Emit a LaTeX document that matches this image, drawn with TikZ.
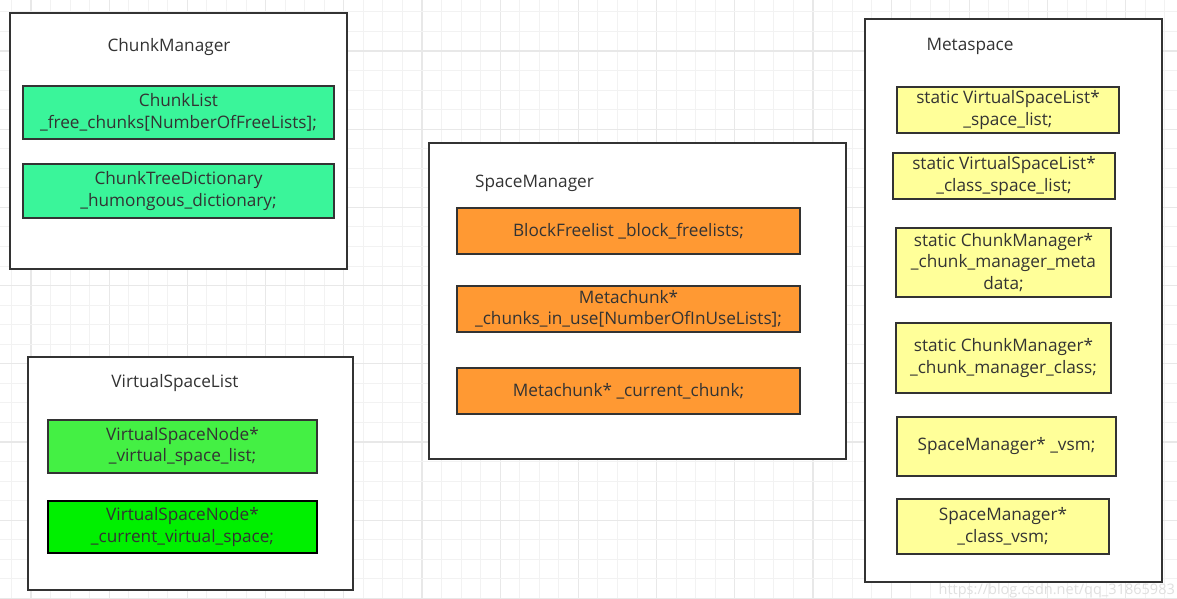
\documentclass[tikz,border=0pt]{standalone}
\usepackage{fontspec}
\setmainfont{Open Sans}
\definecolor{gridminor}{HTML}{F2F2F2}
\definecolor{gridmajor}{HTML}{E8E8E8}
\definecolor{edge}{HTML}{333333}
\definecolor{txt}{HTML}{333333}
\definecolor{teal}{HTML}{3AF59A}
\definecolor{lgreen}{HTML}{44F044}
\definecolor{bgreen}{HTML}{00F000}
\definecolor{orng}{HTML}{FF9933}
\definecolor{ylw}{HTML}{FFFF99}
\begin{document}
\begin{tikzpicture}[x=1pt,y=-1pt,
  container/.style={draw=edge,line width=2pt,fill=white,inner sep=0pt},
  field/.style={draw=edge,line width=2pt,inner sep=0pt,align=center,text=txt,
    font=\fontsize{17.2}{21.5}\selectfont},
  title/.style={text=txt,inner sep=0pt,font=\fontsize{17.2}{21.5}\selectfont}]
\useasboundingbox (0,0) rectangle (1177,598);
\fill[white] (0,0) rectangle (1177,598);
% grid
\foreach \k in {-22,...,40}{
  \pgfmathsetmacro{\gx}{422+19.55*\k}
  \pgfmathtruncatemacro{\m}{mod(\k+100,4)}
  \ifnum\m=0 \draw[gridmajor,line width=1.2pt] (\gx,0) -- (\gx,598);
  \else \draw[gridminor,line width=1pt] (\gx,0) -- (\gx,598); \fi
}
\foreach \k in {-3,...,28}{
  \pgfmathsetmacro{\gy}{51+19.55*\k}
  \pgfmathtruncatemacro{\m}{mod(\k+100,4)}
  \ifnum\m=0 \draw[gridmajor,line width=1.2pt] (0,\gy) -- (1177,\gy);
  \else \draw[gridminor,line width=1pt] (0,\gy) -- (1177,\gy); \fi
}
% ChunkManager
\node[container,minimum width=337pt,minimum height=256pt] (cm) at (178.5,141) {};
\node[title] (cmt) at (169,47) {ChunkManager};
\node[field,fill=teal,minimum width=311pt,minimum height=53pt] (cm1) at (178.5,112.5)
  {ChunkList\\\_free\_chunks[NumberOfFreeLists];};
\node[field,fill=teal,minimum width=311pt,minimum height=54pt] (cm2) at (178.5,191)
  {ChunkTreeDictionary\\\_humongous\_dictionary;};
% VirtualSpaceList
\node[container,minimum width=325pt,minimum height=233pt] (vsl) at (190.5,473.5) {};
\node[title] (vslt) at (175,383) {VirtualSpaceList};
\node[field,fill=lgreen,minimum width=269pt,minimum height=53pt] (v1) at (182.5,446.5)
  {VirtualSpaceNode*\\\_virtual\_space\_list;};
\node[field,fill=bgreen,draw=black,line width=2.5pt,minimum width=269pt,minimum height=52pt] (v2) at (182.5,527)
  {VirtualSpaceNode*\\\_current\_virtual\_space;};
% SpaceManager
\node[container,minimum width=417pt,minimum height=316pt] (sm) at (637.5,301) {};
\node[title] (smt) at (534.5,183) {SpaceManager};
\node[field,fill=orng,minimum width=343pt,minimum height=46pt] (o1) at (628.5,231)
  {BlockFreelist \_block\_freelists;};
\node[field,fill=orng,minimum width=343pt,minimum height=46pt] (o2) at (628.5,309)
  {Metachunk*\\\_chunks\_in\_use[NumberOfInUseLists];};
\node[field,fill=orng,minimum width=343pt,minimum height=46pt] (o3) at (628.5,391)
  {Metachunk* \_current\_chunk;};
% Metaspace
\node[container,minimum width=297pt,minimum height=563pt] (ms) at (1013.5,300.5) {};
\node[title] (mst) at (970,46) {Metaspace};
\node[field,fill=ylw,minimum width=222pt,minimum height=46pt] (y1) at (1008,110)
  {static VirtualSpaceList*\\\_space\_list;};
\node[field,fill=ylw,minimum width=222pt,minimum height=46pt] (y2) at (1004,176)
  {static VirtualSpaceList*\\\_class\_space\_list;};
\node[field,fill=ylw,minimum width=215pt,minimum height=69pt] (y3) at (1003.5,262.5)
  {static ChunkManager*\\\_chunk\_manager\_meta\\data;};
\node[field,fill=ylw,minimum width=215pt,minimum height=70pt] (y4) at (1003.5,358)
  {static ChunkManager*\\\_chunk\_manager\_class;};
\node[field,fill=ylw,minimum width=219pt,minimum height=59pt] (y5) at (1006.5,446.5)
  {SpaceManager* \_vsm;};
\node[field,fill=ylw,minimum width=212pt,minimum height=55pt] (y6) at (1003,526.5)
  {SpaceManager*\\\_class\_vsm;};
% watermark
\node[anchor=east,text=gray!25,inner sep=0pt,font=\fontsize{14.5}{16}\selectfont] (wm) at (1175,591) {https://blog.csdn.net/qq\_31865983};
\end{tikzpicture}
\end{document}
